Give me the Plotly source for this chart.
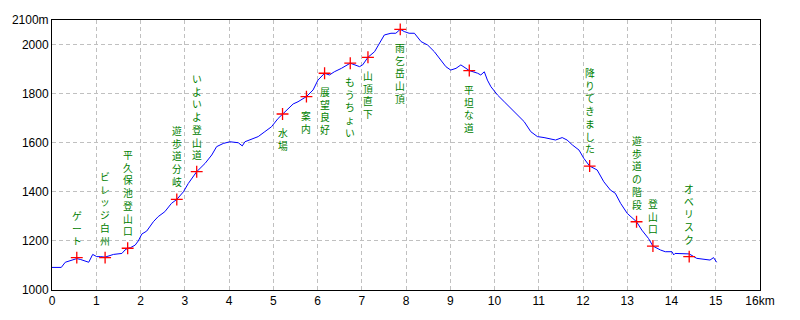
import plotly.graph_objects as go

# Elevation profile (distance km, elevation m)
dist_km = [0.00, 0.21, 0.30, 0.45, 0.56, 0.65, 0.75, 0.83, 0.92, 1.01, 1.09, 1.20, 1.39, 1.58, 1.65,
           1.71, 1.77, 1.88, 1.95, 2.03, 2.14, 2.29, 2.40, 2.55, 2.70, 2.82, 2.97, 3.08, 3.27, 3.46,
           3.61, 3.72, 3.87, 4.02, 4.21, 4.30, 4.36, 4.51, 4.66, 4.81, 4.96, 5.11, 5.21, 5.33, 5.45,
           5.56, 5.75, 5.90, 6.01, 6.16, 6.27, 6.38, 6.54, 6.74, 6.84, 6.95, 7.02, 7.14, 7.29, 7.40,
           7.51, 7.66, 7.77, 7.87, 7.96, 8.07, 8.19, 8.34, 8.49, 8.64, 8.79, 8.90, 9.01, 9.13, 9.24,
           9.43, 9.62, 9.69, 9.77, 9.84, 9.92, 10.07, 10.22, 10.37, 10.48, 10.67, 10.82, 10.97, 11.12,
           11.38, 11.53, 11.64, 11.76, 11.91, 12.02, 12.15, 12.32, 12.47, 12.62, 12.73, 12.85, 13.00,
           13.21, 13.33, 13.48, 13.58, 13.75, 13.86, 14.01, 14.05, 14.08, 14.40, 14.57, 14.72, 14.80,
           14.87, 14.95, 15.02]
elev_m = [1092, 1092, 1113, 1120, 1128, 1124, 1119, 1113, 1145, 1136, 1136, 1134, 1145, 1149, 1163,
          1170, 1172, 1183, 1200, 1228, 1240, 1278, 1299, 1319, 1353, 1369, 1400, 1434, 1482, 1516,
          1550, 1584, 1597, 1604, 1600, 1587, 1604, 1616, 1625, 1645, 1665, 1699, 1717, 1740, 1758,
          1767, 1788, 1815, 1855, 1883, 1876, 1889, 1903, 1924, 1917, 1910, 1917, 1948, 1971, 2005,
          2039, 2046, 2046, 2062, 2053, 2046, 2046, 2012, 1998, 1971, 1937, 1910, 1896, 1903, 1917,
          1894, 1883, 1876, 1889, 1855, 1828, 1794, 1767, 1740, 1720, 1686, 1645, 1625, 1621,
          1611, 1621, 1611, 1591, 1570, 1536, 1505, 1489, 1441, 1407, 1394, 1353, 1312,
          1278, 1244, 1210, 1179, 1163, 1156, 1156, 1143, 1149, 1147, 1129, 1125, 1122,
          1122, 1132, 1113]

# Waypoints
wp_name = ["ゲート", "ビレッジ白州", "平久保池登山口", "遊歩道分岐", "いよいよ登山道",
           "水場", "案内", "展望良好", "もうちょい", "山頂直下", "雨乞岳山頂", "平坦な道",
           "降りてきました", "遊歩道の階段", "登山口", "オベリスク"]
wp_km = [0.56, 1.20, 1.71, 2.82, 3.27, 5.21, 5.75, 6.16, 6.74, 7.14, 7.87, 9.43,
         12.15, 13.21, 13.58, 14.40]
wp_elev = [1132, 1132, 1170, 1369, 1482, 1717, 1788, 1883, 1924, 1948, 2062, 1894,
           1505, 1278, 1179, 1136]
wp_side = ["above"] * 5 + ["below"] * 7 + ["above"] * 4

x_ticks = list(range(0, 17))
x_ticktext = [str(v) for v in range(0, 16)] + ["16km"]
y_ticks = [1000, 1200, 1400, 1600, 1800, 2000, 2100]
y_ticktext = ["1000", "1200", "1400", "1600", "1800", "2000", "2100m"]

fig = go.Figure()
fig.add_trace(go.Scatter(x=dist_km, y=elev_m, mode="lines",
                         line=dict(color="#0000ff", width=1), hoverinfo="skip"))
fig.add_trace(go.Scatter(x=wp_km, y=wp_elev, mode="markers",
                         marker=dict(symbol="cross-thin", size=8.5,
                                     line=dict(color="#ff0000", width=1.3)),
                         hoverinfo="skip"))

for name, xk, ye, side in zip(wp_name, wp_km, wp_elev, wp_side):
    vertical = "<br>".join(list(name))
    above = side == "above"
    fig.add_annotation(x=xk, y=ye, text=vertical, showarrow=False,
                       xanchor="center", yanchor="bottom" if above else "top",
                       yshift=9 if above else -11, borderpad=0,
                       font=dict(family="Noto Sans CJK JP", size=9.8, color="#008000"))

axis_common = dict(showgrid=True, gridcolor="#c0c0c0", griddash="4px,3px", gridwidth=1,
                   showline=True, linecolor="black", linewidth=1, mirror=True,
                   ticks="", zeroline=False,
                   tickfont=dict(family="Liberation Sans", size=12, color="black"))

fig.update_layout(
    width=800, height=320,
    margin=dict(l=50, r=40, t=20, b=30),
    paper_bgcolor="white", plot_bgcolor="white",
    showlegend=False,
    xaxis=dict(range=[0, 16], tickvals=x_ticks, ticktext=x_ticktext, **axis_common),
    yaxis=dict(range=[1000, 2100], tickvals=y_ticks, ticktext=y_ticktext, **axis_common),
)

fig.write_html("out.html")
